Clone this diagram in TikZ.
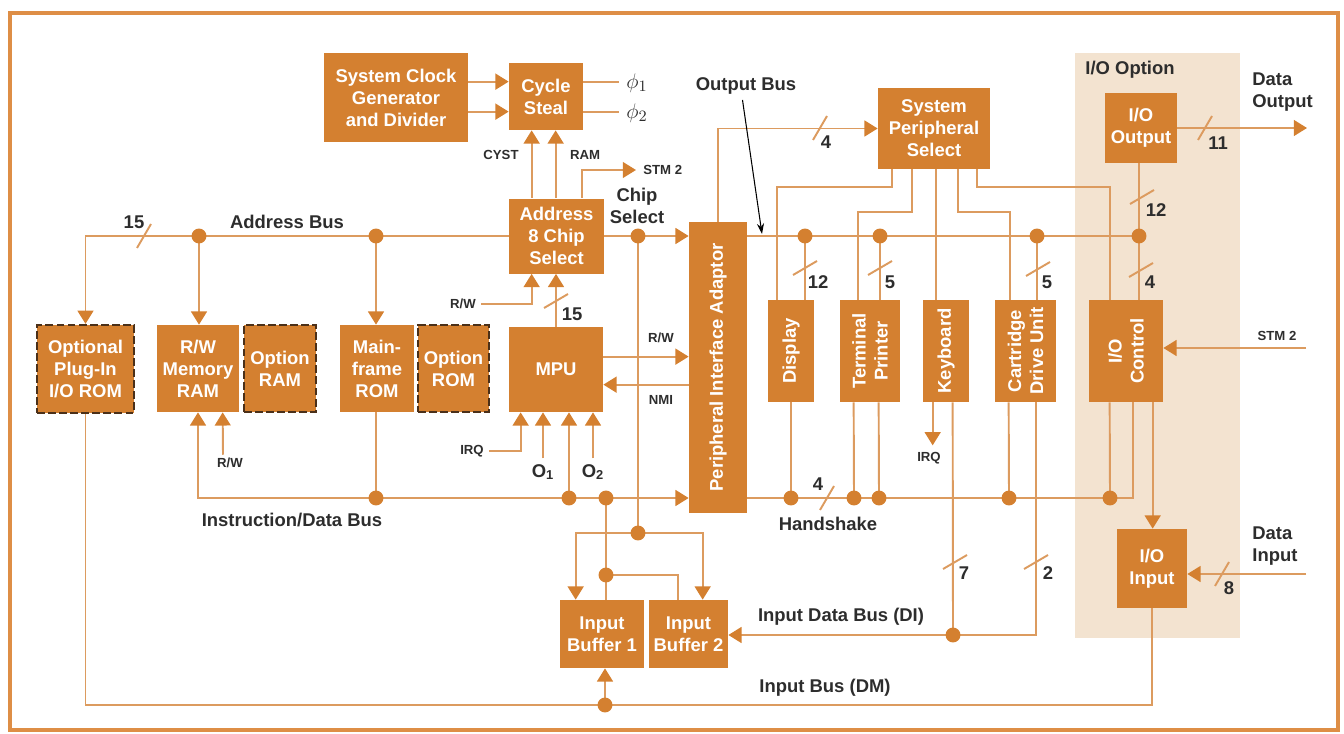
\documentclass[tikz,border=0pt]{standalone}
\usepackage{fontspec}
\setmainfont{Liberation Sans}
\usetikzlibrary{arrows.meta,calc}
\definecolor{boxc}{RGB}{212,128,48}
\definecolor{linec}{RGB}{220,155,95}
\definecolor{framec}{RGB}{222,142,70}
\definecolor{optbg}{RGB}{243,227,208}
\definecolor{txt}{RGB}{45,45,45}
\definecolor{dashc}{RGB}{75,48,25}
\newcommand\busH[2]{\draw[sl] (#1-7,#2+12) -- (#1+7,#2-12);}
\newcommand\busV[2]{\draw[sl] (#1-12,#2+7) -- (#1+12,#2-7);}
\begin{document}
\begin{tikzpicture}[x=0.02cm,y=-0.02cm,
 btxt/.style={text=white, font=\bfseries\fontsize{10.5}{12.5}\selectfont, align=center, inner sep=0pt},
 box/.style={fill=boxc, btxt},
 sz/.style 2 args={minimum width=#1*0.02cm, minimum height=#2*0.02cm},
 opt/.style={draw=dashc, line width=1.3pt, dash pattern=on 4.5pt off 1.8pt},
 ln/.style={draw=linec, line width=1.1pt},
 arr/.style={ln, -{Triangle[width=9pt,length=7.5pt,color=boxc]}},
 biarr/.style={ln, {Triangle[width=9pt,length=7.5pt,color=boxc]}-{Triangle[width=9pt,length=7.5pt,color=boxc]}},
 sl/.style={draw=linec, line width=1.1pt},
 dot/.style={circle, fill=boxc, inner sep=0pt, minimum size=8.5pt},
 lbl/.style={text=txt, font=\bfseries\fontsize{10.5}{12.5}\selectfont, inner sep=0pt},
 sml/.style={text=txt, font=\bfseries\fontsize{7.5}{9}\selectfont, inner sep=0pt},
 num/.style={text=txt, font=\bfseries\fontsize{10.5}{12.5}\selectfont, inner sep=0pt}]
\useasboundingbox (0,0) rectangle (1344,733);
\fill[optbg] (1075,53) rectangle (1240,638);
\draw[framec, line width=2.4pt] (10,13) rectangle (1338,730);

% boxes
\node[box, sz={144}{89}] (clk) at (396,97.5) {System Clock\\Generator\\and Divider};
\node[box, sz={74}{67}] (cyc) at (546,96.5) {Cycle\\Steal};
\node[box, sz={95}{75}] (adr) at (556.5,236) {Address\\8 Chip\\Select};
\node[box, sz={94}{85}] (mpu) at (556,369.5) {MPU};
\node[box, sz={58}{291}] (pia) at (718,367.5) {};
\node[btxt, rotate=90] at (pia) {Peripheral Interface Adaptor};
\node[box, sz={112}{81}] (sps) at (934,128.5) {System\\Peripheral\\Select};
\node[box, sz={46}{102}] (disp) at (791,351) {};
\node[btxt, rotate=90] at (disp) {Display};
\node[box, sz={60}{102}] (term) at (870,351) {};
\node[btxt, rotate=90] at (term) {Terminal\\Printer};
\node[box, sz={46}{102}] (kbd) at (946,351) {};
\node[btxt, rotate=90] at (kbd) {Keyboard};
\node[box, sz={61}{102}] (cart) at (1025.5,351) {};
\node[btxt, rotate=90] at (cart) {Cartridge\\Drive Unit};
\node[box, sz={74}{102}] (ioc) at (1126,351) {};
\node[btxt, rotate=90] at (ioc) {I/O\\Control};
\node[box, sz={72}{70}] (ioo) at (1141,128) {I/O\\Output};
\node[box, sz={70}{79}] (ioi) at (1152,568.5) {I/O\\Input};
\node[box, opt, sz={97}{88}] (plug) at (85.5,369) {Optional\\Plug-In\\I/O ROM};
\node[box, sz={82}{87}] (rwm) at (198,368.5) {R/W\\Memory\\RAM};
\node[box, opt, sz={72}{87}] (oram) at (280,368.5) {Option\\RAM};
\node[box, sz={74}{87}] (mrom) at (377,368.5) {Main-\\frame\\ROM};
\node[box, opt, sz={71}{87}] (orom) at (453.5,368.5) {Option\\ROM};
\node[box, sz={84}{68}] (ib1) at (602,634) {Input\\Buffer 1};
\node[box, sz={79}{68}] (ib2) at (688.5,634) {Input\\Buffer 2};

% junction points
\coordinate (dA1) at (199,236);
\coordinate (dA2) at (376,236);
\coordinate (dCS) at (638,236);
\coordinate (dA3) at (805,236);
\coordinate (dA4) at (880,236);
\coordinate (dA5) at (1037,236);
\coordinate (dA6) at (1139,236);
\coordinate (dI1) at (376,498);
\coordinate (dI2) at (569,498);
\coordinate (dI3) at (606,498);
\coordinate (dB1) at (638,533);
\coordinate (dB2) at (606,575);
\coordinate (dH1) at (791,498);
\coordinate (dH2) at (854,498);
\coordinate (dH3) at (879,498);
\coordinate (dH4) at (1009,498);
\coordinate (dH5) at (1110,498);
\coordinate (dD1) at (953,635);
\coordinate (dM1) at (605,705);

% clock / cycle steal
\draw[arr] ($(clk.north east)+(0,29)$) -- ($(cyc.north west)+(0,19)$);
\draw[arr] ($(clk.north east)+(0,59)$) -- ($(cyc.north west)+(0,49)$);
\node[lbl, anchor=west, font=\fontsize{13}{15}\selectfont] (phi1) at (626,83) {$\phi_1$};
\node[lbl, anchor=west, font=\fontsize{13}{15}\selectfont] (phi2) at (626,113) {$\phi_2$};
\coordinate (p1) at ($(cyc.north east)+(0,19)$);
\coordinate (p2) at ($(cyc.north east)+(0,49)$);
\draw[ln] (p1) -- ([xshift=-4pt]p1 -| phi1.west);
\draw[ln] (p2) -- ([xshift=-4pt]p2 -| phi2.west);
\draw[arr] ($(adr.north west)+(23,0)$) -- ($(cyc.south west)+(23,0)$);
\draw[arr] ($(adr.north west)+(47,0)$) -- ($(cyc.south west)+(47,0)$);
\node[sml] at (501,155) {CYST};
\node[sml] at (585,155) {RAM};
\node[sml, anchor=west] (stma) at (643,170) {STM 2};
\draw[arr] ($(adr.north west)+(73,0)$) |- ([xshift=-4pt]stma.west);
\node[lbl, align=center] at (637,206) {Chip\\Select};

% address bus
\draw[arr] (adr.west) -| (plug.north);
\draw[arr] (dA1) -- (dA1 |- rwm.north);
\draw[arr] (dA2) -- (dA2 |- mrom.north);
\node[lbl] at (287,222) {Address Bus};
\busH{144}{236}
\node[num] at (134,222) {15};
\draw[arr] (adr.east) -- (pia.west |- adr.east);

% output bus
\draw[ln] (pia.east |- dA6) -- (dA6);
\draw[ln] (dA3) -- (dA3 |- disp.north);
\busV{805}{268}
\node[num] at (818,282) {12};
\draw[ln] (dA4) -- (dA4 |- term.north);
\busV{880}{268}
\node[num] at (890,282) {5};
\draw[ln] (dA5) -- (dA5 |- cart.north);
\busV{1038}{269}
\node[num] at (1047,282) {5};
\draw[ln] (dA6 |- ioo.south) -- (dA6 |- ioc.north);
\busV{1142}{197}
\node[num] at (1156,210) {12};
\busV{1141}{270}
\node[num] at (1150,282) {4};

% PIA to system peripheral select
\draw[arr] (pia.north) |- (sps.west);
\busH{820}{128}
\node[num] at (826,142) {4};
\node[lbl] (obus) at (746,86) {Output Bus};
\coordinate (obt) at (762,234);
\draw[black, line width=0.6pt, -{Stealth[length=6pt,width=4pt]}] ([xshift=-2pt,yshift=-3pt]obus.south) -- (obt);

% system peripheral select outputs
\draw[ln] ($(sps.south west)+(14,0)$) -- ++(0,18) -| ($(disp.north west)+(9,0)$);
\draw[ln] ($(sps.south west)+(34,0)$) -- ++(0,43) -| ($(term.north west)+(18,0)$);
\draw[ln] ($(sps.south west)+(58,0)$) -- ($(kbd.north west)+(13,0)$);
\draw[ln] ($(sps.south west)+(80,0)$) -- ++(0,43) -| ($(cart.north west)+(15,0)$);
\draw[ln] ($(sps.south west)+(99,0)$) -- ++(0,18) -| ($(ioc.north west)+(21,0)$);

% I/O option
\node[lbl] at (1130,70) {I/O Option};
\coordinate (cDO) at (1307,128);
\draw[arr] (ioo.east) -- (cDO);
\busH{1205}{128}
\node[num] at (1218,143) {11};
\node[lbl, anchor=west, align=left] at (1252,92) {Data\\Output};
\coordinate (cSTM) at (1306,348);
\draw[arr] (cSTM) -- (cSTM -| ioc.east);
\node[sml] at (1277,336) {STM 2};
\draw[arr] ($(ioc.south west)+(64,0)$) -- ($(ioi.north west)+(36,0)$);
\coordinate (cDI) at (1306,574);
\draw[arr] (cDI) -- (cDI -| ioi.east);
\busH{1222}{574}
\node[num] at (1229,588) {8};
\node[lbl, anchor=west, align=left] at (1252,546) {Data\\Input};

% handshake
\draw[ln] (pia.east |- dH1) -| ($(ioc.south west)+(44,0)$);
\draw[ln] (disp.south) -- (dH1);
\draw[ln] ($(term.south west)+(14,0)$) -- (dH2);
\draw[ln] ($(term.south west)+(39,0)$) -- (dH3);
\draw[ln] ($(cart.south west)+(14,0)$) -- (dH4);
\draw[ln] ($(ioc.south west)+(21,0)$) -- (dH5);
\busH{827}{498}
\node[num] at (818,484) {4};
\node[lbl] at (828,524) {Handshake};

% keyboard, input data bus
\node[sml] (irq2) at (929,458) {IRQ};
\draw[arr] ($(kbd.south west)+(10,0)$) -- ($(kbd.south west)+(10,43)$);
\draw[ln] ($(kbd.south west)+(30,0)$) -- (dD1);
\draw[ln] ($(cart.south west)+(41,0)$) |- (dD1);
\busV{955}{562}
\node[num] at (964,573) {7};
\busV{1036}{562}
\node[num] at (1048,573) {2};
\draw[arr] (dD1) -- (ib2.east |- dD1);
\node[lbl] at (841,617) {Input Data Bus (DI)};

% instruction / data bus
\draw[biarr] (rwm.south) |- (pia.west |- dI1);
\node[sml] (rw3) at (230,463) {R/W};
\draw[arr] ($(rw3.north)+(-7,-3)$) -- ($(rwm.south west)+(66,0)$);
\draw[ln] (mrom.south -| dI1) -- (dI1);
\node[lbl] at (292,520) {Instruction/Data Bus};

% MPU
\draw[arr] (dI2) -- (dI2 |- mpu.south);
\node[sml] (irq1) at (472,451) {IRQ};
\draw[arr] ([xshift=3pt]irq1.east) -| ($(mpu.south west)+(12,0)$);
\node[num] (o1) at (543,472) {O\textsubscript{1}};
\node[num] (o2) at (593,472) {O\textsubscript{2}};
\draw[arr] ([yshift=3pt]o1.north) -- (o1.north |- mpu.south);
\draw[arr] ([yshift=3pt]o2.north) -- (o2.north |- mpu.south);
\draw[arr] (mpu.north) -- (mpu.north |- adr.south);
\busV{556}{301}
\node[num] at (572,314) {15};
\node[sml] (rw1) at (463,304) {R/W};
\draw[arr] ([xshift=3pt]rw1.east) -| ($(adr.south west)+(23,0)$);
\coordinate (rwa) at ($(mpu.north east)+(0,30)$);
\draw[arr] (rwa) -- (rwa -| pia.west);
\node[sml] at (661,338) {R/W};
\coordinate (nmia) at ($(mpu.north east)+(0,58)$);
\draw[arr] (nmia -| pia.west) -- (nmia);
\node[sml] at (661,400) {NMI};

% chip select to input buffers
\draw[ln] (dCS) -- (dB1);
\draw[arr] (dB1) -| ($(ib1.north west)+(16,0)$);
\draw[arr] (dB1) -| ($(ib2.north west)+(54,0)$);
\draw[ln] (dI3) -- (dI3 |- ib1.north);
\draw[ln] (dB2) -| ($(ib2.north west)+(29,0)$);

% input bus (DM)
\draw[ln] (ioi.south) |- (plug.south |- dM1) -- (plug.south);
\draw[arr] (dM1) -- (dM1 |- ib1.south);
\node[lbl] at (825,688) {Input Bus (DM)};

% dots
\foreach \d in {dA1,dA2,dCS,dA3,dA4,dA5,dA6,dI1,dI2,dI3,dB1,dB2,dH1,dH2,dH3,dH4,dH5,dD1,dM1}
  \node[dot] at (\d) {};
\end{tikzpicture}
\end{document}
